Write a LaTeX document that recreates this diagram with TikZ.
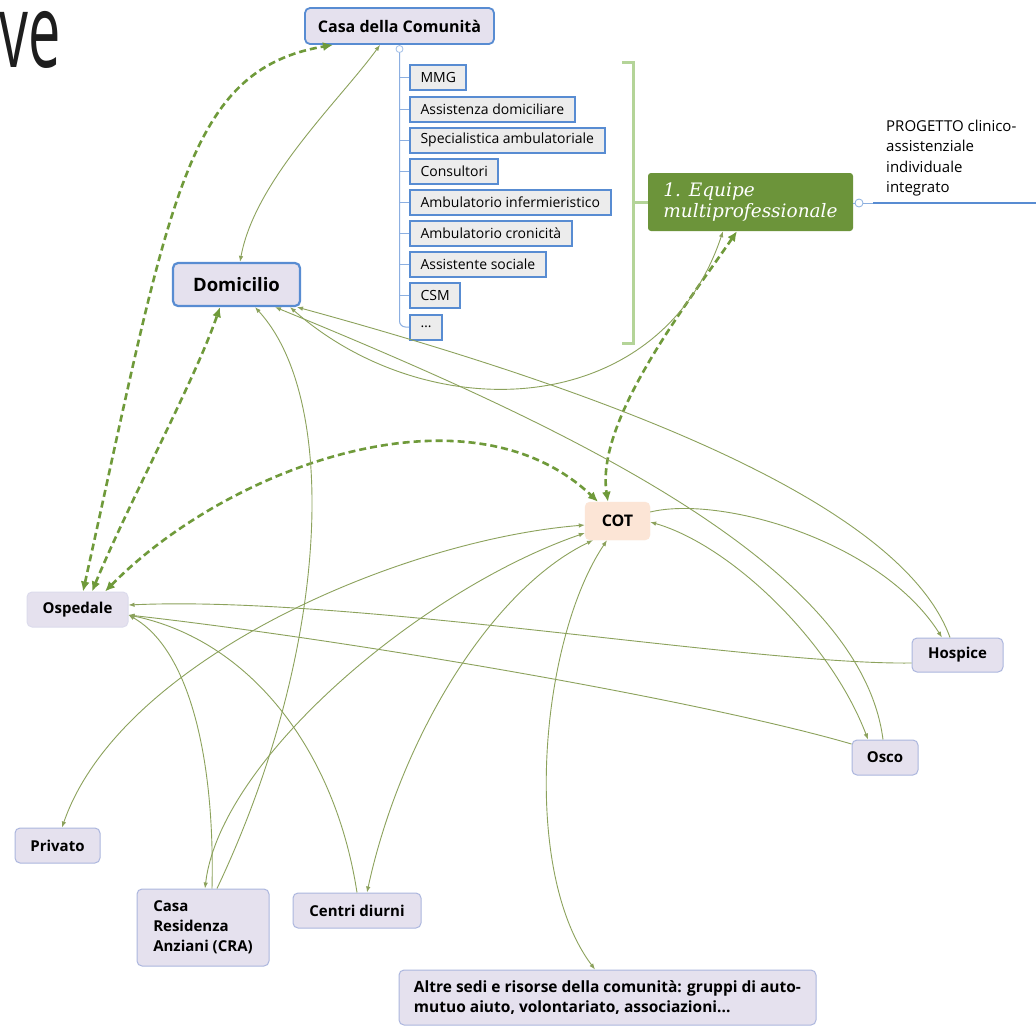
\documentclass[tikz,border=0pt]{standalone}
\usepackage{fontspec}
\setmainfont{Open Sans}
\newfontfamily\eqfont{DejaVu Serif}
\usetikzlibrary{arrows.meta,calc}

\definecolor{dgreen}{RGB}{111,154,58}
\definecolor{tgreen}{RGB}{140,162,92}
\definecolor{eqgreen}{RGB}{108,148,58}
\definecolor{brgreen}{RGB}{180,212,152}
\definecolor{lblue}{RGB}{88,140,210}
\definecolor{treeblue}{RGB}{140,175,225}
\definecolor{lavfill}{RGB}{229,225,238}
\definecolor{lavline}{RGB}{172,182,222}
\definecolor{itemfill}{RGB}{236,236,236}
\definecolor{cotfill}{RGB}{252,229,214}
\definecolor{titlegray}{RGB}{30,30,30}

\tikzset{
  mainbox/.style={draw=lblue, line width=1.8pt, fill=lavfill, rounded corners=5pt,
    font=\bfseries\fontsize{16}{19}\selectfont, inner sep=0pt},
  placebox/.style={draw=lavline, line width=1pt, fill=lavfill, rounded corners=5pt,
    font=\bfseries\fontsize{15}{20}\selectfont, inner sep=0pt, align=left},
  itembox/.style={draw=lblue, line width=2pt, fill=itemfill, anchor=west,
    font=\fontsize{14}{16}\selectfont, inner xsep=10.5pt, inner ysep=0pt, minimum height=25pt},
  dlink/.style={draw=dgreen, line width=2.6pt, dash pattern=on 7pt off 4pt,
    {Latex[length=10pt,width=9pt]}-{Latex[length=10pt,width=9pt]}},
  tlink/.style={draw=tgreen, line width=0.9pt},
  lnkboth/.style={tlink, {Latex[length=6pt,width=4.5pt]}-{Latex[length=6pt,width=4.5pt]}},
  lnkstart/.style={tlink, {Latex[length=6pt,width=4.5pt]}-},
  lnkend/.style={tlink, -{Latex[length=6pt,width=4.5pt]}},
  treeline/.style={draw=treeblue, line width=1pt},
}

\begin{document}
\begin{tikzpicture}[x=1pt,y=-1pt]
\fill[white] (0,0) rectangle (1036,1026);
\useasboundingbox (0,0) rectangle (1036,1026);

\begin{scope}
\clip (0,0) rectangle (1036,1026);
\node[anchor=base east, inner sep=0pt, text=titlegray,
  font=\fontsize{103}{110}\selectfont] (title) at (61,67) {\scalebox{0.56}[1]{ve}};
\end{scope}

% main nodes
\node[mainbox, minimum width=189pt, minimum height=36pt] (casa) at (399.5,26) {Casa della Comunità};
\node[mainbox, line width=2.2pt, minimum width=127pt, minimum height=43pt,
  font=\bfseries\fontsize{18.5}{22}\selectfont] (dom) at (236.5,284.5) {Domicilio};
\node[fill=cotfill, draw=cotfill, rounded corners=5pt, inner sep=0pt, minimum width=65pt, minimum height=38pt,
  font=\bfseries\fontsize{16}{19}\selectfont] (cot) at (617.5,521) {COT};
\node[placebox, draw=lavfill!85!lavline, minimum width=101pt, minimum height=35pt] (osp) at (77.5,609.5) {Ospedale};
\node[placebox, minimum width=91pt, minimum height=34pt] (hosp) at (957.5,655) {Hospice};
\node[placebox, minimum width=66pt, minimum height=35pt] (osco) at (885,757.5) {Osco};
\node[placebox, minimum width=85pt, minimum height=35pt] (priv) at (57.5,845.5) {Privato};
\node[placebox, minimum width=132pt, minimum height=77pt] (cra) at (203,927.5) {Casa\\Residenza\\Anziani (CRA)};
\node[placebox, minimum width=128pt, minimum height=35pt] (centri) at (357,910.5) {Centri diurni};
\node[placebox, minimum width=417pt, minimum height=55pt, font=\bfseries\fontsize{15.5}{20}\selectfont] (altre) at (607.5,997.5)
  {Altre sedi e risorse della comunità: gruppi di auto-\\mutuo aiuto, volontariato, associazioni...};

\node[fill=eqgreen, rounded corners=3pt, inner sep=0pt, minimum width=205pt, minimum height=58pt,
  text=white, align=left, font=\eqfont\itshape\fontsize{18.5}{21.5}\selectfont] (equipe) at (750.5,202)
  {1. Equipe\\multiprofessionale};

% list items
\node[itembox] (i1) at (409,77.5) {MMG};
\node[itembox] (i2) at (409,109) {Assistenza domiciliare};
\node[itembox] (i3) at (409,140) {Specialistica ambulatoriale};
\node[itembox] (i4) at (409,171) {Consultori};
\node[itembox] (i5) at (409,202.5) {Ambulatorio infermieristico};
\node[itembox] (i6) at (409,233.5) {Ambulatorio cronicità};
\node[itembox] (i7) at (409,264.5) {Assistente sociale};
\node[itembox] (i8) at (409,295.5) {CSM};
\node[itembox] (i9) at (409,327) {…};

% tree
\node[circle, draw=treeblue!80, fill=white, line width=0.8pt, minimum size=7pt, inner sep=0pt] (collapse) at (399.5,49) {};
\draw[treeline, rounded corners=6pt] (collapse.south) |- (i9.west);
\foreach \k in {1,...,8} { \draw[treeline] (collapse.south |- i\k.west) -- (i\k.west); }

% bracket
\coordinate (brT) at (633,62);
\coordinate (brB) at (633,343);
\draw[brgreen, line width=3pt] ([xshift=-11pt]brT) -- (brT) -- (brB) -- ([xshift=-11pt]brB);
\draw[brgreen, line width=3pt] (brT |- equipe.west) -- (equipe.west);

% progetto
\node[circle, draw=lblue!70, fill=white, line width=0.8pt, minimum size=8pt, inner sep=0pt] (pcirc) at (859,203) {};
\coordinate (pmid) at (873,203);
\coordinate (pend) at (1036,203);
\draw[lblue!70, line width=0.8pt] (equipe.east |- pcirc.west) -- (pcirc.west);
\draw[lblue!70, line width=0.8pt] (pcirc.east) -- (pmid);
\draw[lblue, line width=2pt] (pmid) -- (pend);
\node[anchor=north west, align=left, inner sep=0pt, font=\fontsize{15}{20.3}\selectfont] (prog) at (886,120)
  {PROGETTO clinico-\\assistenziale\\individuale\\integrato};

% dashed links
\draw[dlink] ([xshift=5.5pt]osp.north) .. controls (170,200) and (185,70) .. ([xshift=-66.5pt]casa.south);
\draw[dlink] ([xshift=14.5pt]osp.north) .. controls (130,500) and (195,380) .. ([xshift=-16.5pt]dom.south);
\draw[dlink] ([xshift=27.5pt]osp.north) .. controls (230,465) and (470,380) .. ([xshift=-19.5pt]cot.north);
\draw[dlink] ([xshift=-13.5pt]equipe.south) .. controls (690,300) and (595,420) .. ([xshift=-9.5pt]cot.north);

% thin links
\draw[lnkboth] ([xshift=3.5pt]dom.north) .. controls (255,180) and (340,100) .. ([xshift=-19.5pt]casa.south);
\draw[lnkstart] ([xshift=18.5pt]dom.south) .. controls (340,400) and (330,650) .. ([xshift=14pt]cra.north);
\draw[lnkstart] ([xshift=38.5pt]dom.south) .. controls (550,420) and (860,560) .. ([xshift=-2pt]osco.north);
\draw[lnkboth] ([xshift=53.5pt]dom.south) .. controls (430,430) and (660,420) .. ([xshift=-27.5pt]equipe.south);
\draw[lnkstart] ([xshift=60.5pt]dom.south) .. controls (600,390) and (900,500) .. ([xshift=-7.5pt]hosp.north);
\draw[lnkend] ([yshift=9pt]cot.east) .. controls (720,495) and (880,540) .. ([xshift=-15.5pt]hosp.north);
\draw[lnkboth] ([yshift=-1pt]cot.east) .. controls (730,545) and (830,640) .. ([xshift=-17pt]osco.north);
\draw[lnkstart] ([yshift=4.5pt]osp.east) .. controls (350,595) and (750,665) .. ([yshift=-8pt]hosp.west);
\draw[lnkstart] ([yshift=-5.5pt]osp.east) .. controls (350,640) and (700,700) .. ([yshift=13.5pt]osco.west);
\draw[lnkstart] ([yshift=-5.5pt]osp.east) .. controls (190,650) and (215,760) .. ([xshift=9pt]cra.north);
\draw[lnkstart] ([yshift=-5.5pt]osp.east) .. controls (250,640) and (335,750) .. (centri.north);
\draw[lnkboth] ([yshift=-4pt]cot.west) .. controls (400,540) and (120,660) .. ([xshift=4.5pt]priv.north);
\draw[lnkboth] ([yshift=-12pt]cot.west) .. controls (420,590) and (220,760) .. ([xshift=2pt]cra.north);
\draw[lnkboth] ([xshift=-24.5pt]cot.south) .. controls (490,590) and (400,740) .. ([xshift=10pt]centri.north);
\draw[lnkboth] ([xshift=-10.5pt]cot.south) .. controls (540,640) and (520,870) .. ([xshift=-12.5pt]altre.north);

\end{tikzpicture}
\end{document}
